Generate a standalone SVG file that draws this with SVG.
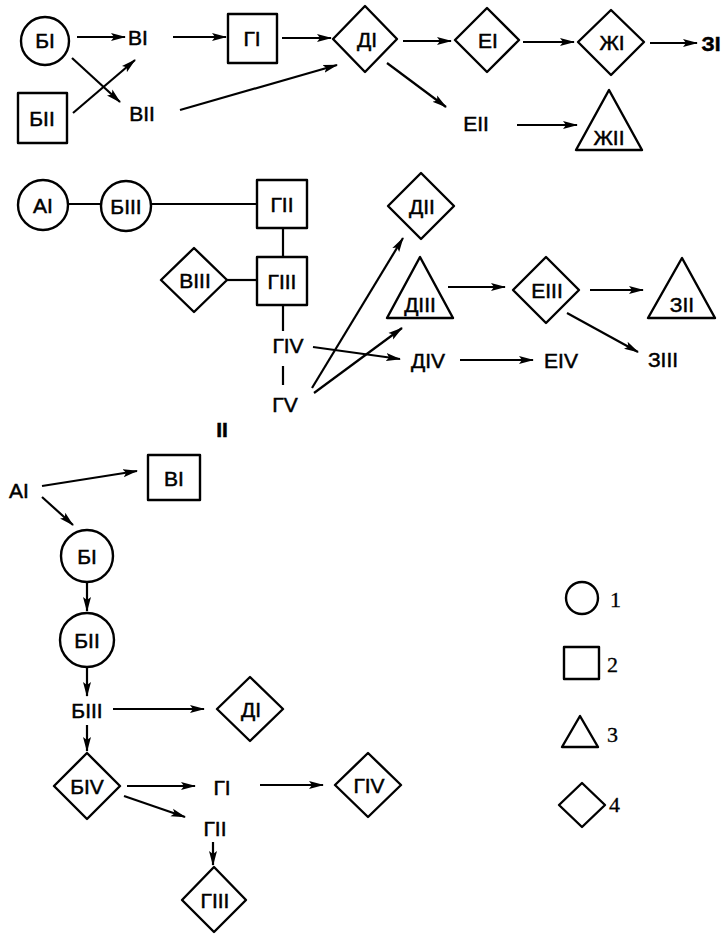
<svg xmlns="http://www.w3.org/2000/svg" width="726" height="934" viewBox="0 0 726 934">
<defs>
<marker id="ah" markerUnits="userSpaceOnUse" markerWidth="15" markerHeight="9" refX="14" refY="4.5" orient="auto">
<path d="M0,0.5 L15,4.5 L0,8.5 L3,4.5 z" fill="#000"/>
</marker>
<style>
.s{fill:#fff;stroke:#000;stroke-width:2.4;stroke-linejoin:round}
.c line{stroke:#000;stroke-width:2.2}
.a{marker-end:url(#ah)}
text{font-family:"Liberation Sans","DejaVu Sans",sans-serif;font-size:21px;text-anchor:middle;fill:#000;stroke:#000;stroke-width:0.5}
.lg{font-family:"Liberation Serif","DejaVu Serif",serif;font-size:22px;text-anchor:start;stroke-width:0.3}
.b{font-weight:bold}
</style>
</defs>
<rect width="726" height="934" fill="#fff"/>

<g class="c" id="connectors">
<!-- part I top -->
<line class="a" x1="77" y1="37" x2="125" y2="37"/>
<line class="a" x1="173" y1="37" x2="226" y2="37"/>
<line class="a" x1="282" y1="38" x2="331" y2="38"/>
<line class="a" x1="403" y1="41" x2="451" y2="41"/>
<line class="a" x1="523" y1="42" x2="574" y2="42"/>
<line class="a" x1="650" y1="43" x2="697" y2="43"/>
<line class="a" x1="72" y1="58" x2="120" y2="102"/>
<line class="a" x1="73" y1="113" x2="135" y2="60"/>
<line class="a" x1="180" y1="110" x2="337" y2="65"/>
<line class="a" x1="387" y1="63" x2="446" y2="107"/>
<line class="a" x1="517" y1="125" x2="577" y2="125"/>
<!-- part I second -->
<line x1="68" y1="204" x2="101" y2="204"/>
<line x1="151" y1="204" x2="257" y2="204"/>
<line x1="283" y1="228" x2="283" y2="257"/>
<line x1="227" y1="280" x2="257" y2="280"/>
<line x1="283" y1="305" x2="283" y2="331"/>
<line x1="283" y1="366" x2="283" y2="385"/>
<line class="a" x1="313" y1="347" x2="400" y2="359"/>
<line class="a" x1="312" y1="388" x2="403" y2="238"/>
<line class="a" x1="314" y1="393" x2="402" y2="328"/>
<line class="a" x1="448" y1="287" x2="505" y2="287"/>
<line class="a" x1="590" y1="290" x2="643" y2="290"/>
<line class="a" x1="567" y1="313" x2="638" y2="352"/>
<line class="a" x1="460" y1="360" x2="533" y2="360"/>
<!-- part II -->
<line class="a" x1="42" y1="486" x2="137" y2="471"/>
<line class="a" x1="42" y1="497" x2="73" y2="525"/>
<line class="a" x1="87" y1="583" x2="87" y2="611"/>
<line class="a" x1="87" y1="668" x2="87" y2="696"/>
<line class="a" x1="113" y1="709" x2="204" y2="709"/>
<line class="a" x1="87" y1="725" x2="87" y2="751"/>
<line class="a" x1="127" y1="786" x2="195" y2="786"/>
<line class="a" x1="260" y1="785" x2="323" y2="785"/>
<line class="a" x1="124" y1="796" x2="185" y2="817"/>
<line class="a" x1="213" y1="842" x2="213" y2="865"/>
</g>

<!-- Part I, top -->
<g id="n-BI-1"><circle class="s" cx="45" cy="41" r="24"/><text x="45" y="48">БI</text></g>
<g id="n-VI-1"><text x="138" y="45">ВI</text></g>
<g id="n-GI-1"><rect class="s" x="228" y="14" width="49" height="49"/><text x="252" y="46">ГI</text></g>
<g id="n-DI-1"><polygon class="s" points="333,39 365,6 397,39 365,72"/><text x="367" y="47">ДI</text></g>
<g id="n-EI-1"><polygon class="s" points="455,40 487,8 519,40 487,72"/><text x="488" y="48">ЕI</text></g>
<g id="n-ZhI-1"><polygon class="s" points="578,42 611,10 644,42 611,75"/><text x="612" y="50">ЖI</text></g>
<g id="n-ZI-1"><text class="b" x="711" y="51">ЗI</text></g>
<g id="n-BII-1"><rect class="s" x="18" y="93" width="49" height="50"/><text x="42" y="126">БII</text></g>
<g id="n-VII-1"><text x="142" y="121">ВII</text></g>
<g id="n-EII-1"><text x="476" y="131">ЕII</text></g>
<g id="n-ZhII-1"><polygon class="s" points="609,90 576,150 642,150"/><text x="609" y="145">ЖII</text></g>

<!-- Part I, second -->
<g id="n-AI-2"><circle class="s" cx="43" cy="205" r="25"/><text x="43" y="213">АI</text></g>
<g id="n-BIII-2"><circle class="s" cx="126" cy="206" r="25"/><text x="126" y="214">БIII</text></g>
<g id="n-GII-2"><rect class="s" x="257" y="180" width="50" height="48"/><text x="282" y="212">ГII</text></g>
<g id="n-GIII-2"><rect class="s" x="257" y="257" width="50" height="48"/><text x="282" y="289">ГIII</text></g>
<g id="n-VIII-2"><polygon class="s" points="161,280 194,248 227,280 194,312"/><text x="195" y="288">ВIII</text></g>
<g id="n-GIV-2"><text x="288" y="353">ГIV</text></g>
<g id="n-GV-2"><text x="285" y="412">ГV</text></g>
<g id="n-DII-2"><polygon class="s" points="388,206 421,173 454,206 421,239"/><text x="422" y="214">ДII</text></g>
<g id="n-DIII-2"><polygon class="s" points="420,257 387,318 453,318"/><text x="420" y="312">ДIII</text></g>
<g id="n-EIII-2"><polygon class="s" points="513,290 546,257 579,290 546,323"/><text x="547" y="298">ЕIII</text></g>
<g id="n-ZII-2"><polygon class="s" points="682,258 648,318 715,318"/><text x="682" y="312">ЗII</text></g>
<g id="n-ZIII-2"><text x="663" y="367">ЗIII</text></g>
<g id="n-DIV-2"><text x="428" y="368">ДIV</text></g>
<g id="n-EIV-2"><text x="561" y="368">ЕIV</text></g>

<!-- Part II -->
<g id="label-II"><text class="b" x="222" y="437">II</text></g>
<g id="n-AI-3"><text x="19" y="498">АI</text></g>
<g id="n-VI-3"><rect class="s" x="148" y="455" width="52" height="45"/><text x="174" y="486">ВI</text></g>
<g id="n-BI-3"><circle class="s" cx="87" cy="556" r="26"/><text x="87" y="564">БI</text></g>
<g id="n-BII-3"><circle class="s" cx="87" cy="640" r="27"/><text x="87" y="648">БII</text></g>
<g id="n-BIII-3"><text x="87" y="718">БIII</text></g>
<g id="n-DI-3"><polygon class="s" points="217,709 250,677 283,709 250,741"/><text x="251" y="717">ДI</text></g>
<g id="n-BIV-3"><polygon class="s" points="54,786 87,753 120,786 87,819"/><text x="87" y="794">БIV</text></g>
<g id="n-GI-3"><text x="222" y="795">ГI</text></g>
<g id="n-GIV-3"><polygon class="s" points="335,785 368,753 401,785 368,817"/><text x="369" y="793">ГIV</text></g>
<g id="n-GII-3"><text x="215" y="836">ГII</text></g>
<g id="n-GIII-3"><polygon class="s" points="182,900 214,867 246,900 214,932"/><text x="215" y="908">ГIII</text></g>

<!-- Legend -->
<g id="legend">
<circle class="s" cx="582" cy="598" r="16"/><text class="lg" x="610" y="607">1</text>
<rect class="s" x="564" y="647" width="35" height="32"/><text class="lg" x="607" y="672">2</text>
<polygon class="s" points="580,716 562,747 598,747"/><text class="lg" x="607" y="742">3</text>
<polygon class="s" points="559,805 582,783 605,805 582,827"/><text class="lg" x="609" y="812">4</text>
</g>
</svg>
